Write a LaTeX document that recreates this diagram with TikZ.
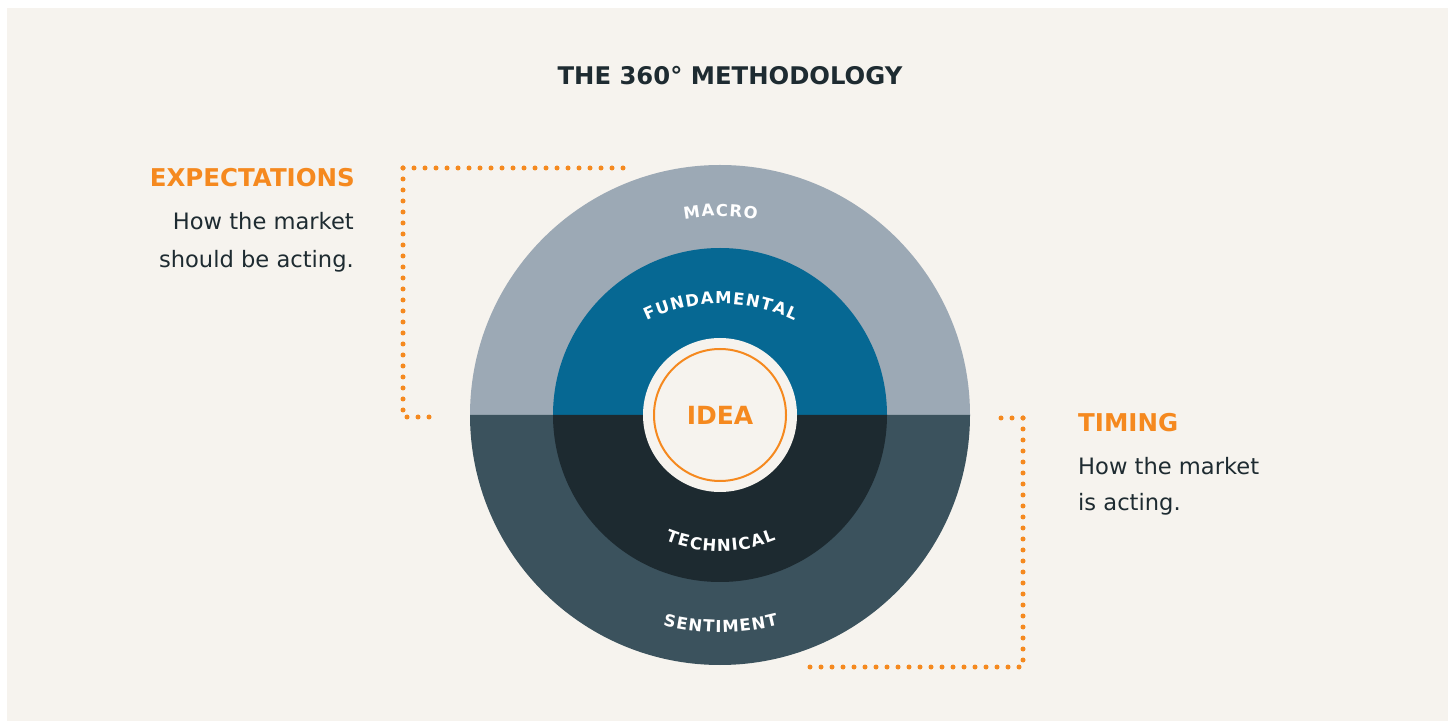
\documentclass[tikz,border=0pt]{standalone}
\usepackage{fontspec}
\setmainfont{DejaVu Sans}
\usetikzlibrary{decorations.text}

\definecolor{panel}{HTML}{F6F3EE}
\definecolor{macro}{HTML}{9CA9B5}
\definecolor{fundamental}{HTML}{066893}
\definecolor{technical}{HTML}{1D2A30}
\definecolor{sentiment}{HTML}{3B525D}
\definecolor{accent}{HTML}{F5891F}
\definecolor{ink}{HTML}{1E2B31}

\begin{document}
\begin{tikzpicture}[x=1pt,y=1pt,
  heading/.style={inner sep=0pt, text=accent, font=\fontsize{24.5}{26}\selectfont\bfseries},
  bodytext/.style={inner sep=0pt, text=ink, font=\fontsize{22.6}{26}\selectfont},
  ringlabel/.style={decorate, decoration={text along path, text align=center,
      text={|\fontsize{16.5}{17}\selectfont\bfseries\color{white}\kern1.2pt|#1}}},
  dotline/.style={draw=accent, line width=5pt, line cap=round, dash pattern=on 0pt off 11pt}
]
\useasboundingbox (0,0) rectangle (1452,721);
\fill[white] (0,0) rectangle (1452,721);
\fill[panel] (7,0) rectangle (1448,713);

% title
\node[inner sep=0pt, anchor=base, text=ink, font=\fontsize{24.3}{26}\selectfont\bfseries] (title) at (730,636) {THE 360° METHODOLOGY};

% concentric rings
\coordinate (C) at (720,306);
\fill[macro] (C) ++(0:250) arc[start angle=0, end angle=180, radius=250pt] -- cycle;
\fill[sentiment] (C) ++(180:250) arc[start angle=180, end angle=360, radius=250pt] -- cycle;
\fill[fundamental] (C) ++(0:167) arc[start angle=0, end angle=180, radius=167pt] -- cycle;
\fill[technical] (C) ++(180:167) arc[start angle=180, end angle=360, radius=167pt] -- cycle;
\node[circle, fill=panel, inner sep=0pt, minimum size=154pt] (core) at (C) {};
\node[circle, draw=accent, line width=2pt, inner sep=0pt, minimum size=132pt] (ring) at (C) {};
\node[text=accent, font=\fontsize{25}{25}\selectfont\bfseries] (idea) at (C) {IDEA};

% curved ring labels
\coordinate (cMacro) at (720,306);
\coordinate (cFund) at (720,247);
\coordinate (cTech) at (720,318);
\coordinate (cSent) at (720,323);
\path[ringlabel=MACRO] (cMacro) ++(120:198.8) arc[start angle=120, end angle=60, radius=198.8pt];
\path[ringlabel=FUNDAMENTAL] (cFund) ++(130:170) arc[start angle=130, end angle=50, radius=170pt];
\path[ringlabel=TECHNICAL] (cTech) ++(240:148.2) arc[start angle=240, end angle=300, radius=148.2pt];
\path[ringlabel=SENTIMENT] (cSent) ++(240:234.2) arc[start angle=240, end angle=300, radius=234.2pt];

% side texts
\node[heading, anchor=base east] (exp) at (355,534) {EXPECTATIONS};
\node[bodytext, anchor=base east] (exp1) at (354,491) {How the market};
\node[bodytext, anchor=base east] (exp2) at (354,453) {should be acting.};
\node[heading, anchor=base west] (tim) at (1078,289) {TIMING};
\node[bodytext, anchor=base west] (tim1) at (1078,246) {How the market};
\node[bodytext, anchor=base west] (tim2) at (1078,210) {is acting.};

% dotted brackets
\coordinate (l1) at (626,553);
\coordinate (l2) at (403,553);
\coordinate (l3) at (403,304);
\coordinate (l4) at (436,304);
\draw[dotline] (l2) -- (l1);
\draw[dotline] (l2) -- (l3) -- (l4);
\coordinate (r1) at (995,303);
\coordinate (r2) at (1023,303);
\coordinate (r3) at (1023,54);
\coordinate (r4) at (804,54);
\draw[dotline] (r2) -- (r1);
\draw[dotline] (r2) -- (r3) -- (r4);
\end{tikzpicture}
\end{document}
